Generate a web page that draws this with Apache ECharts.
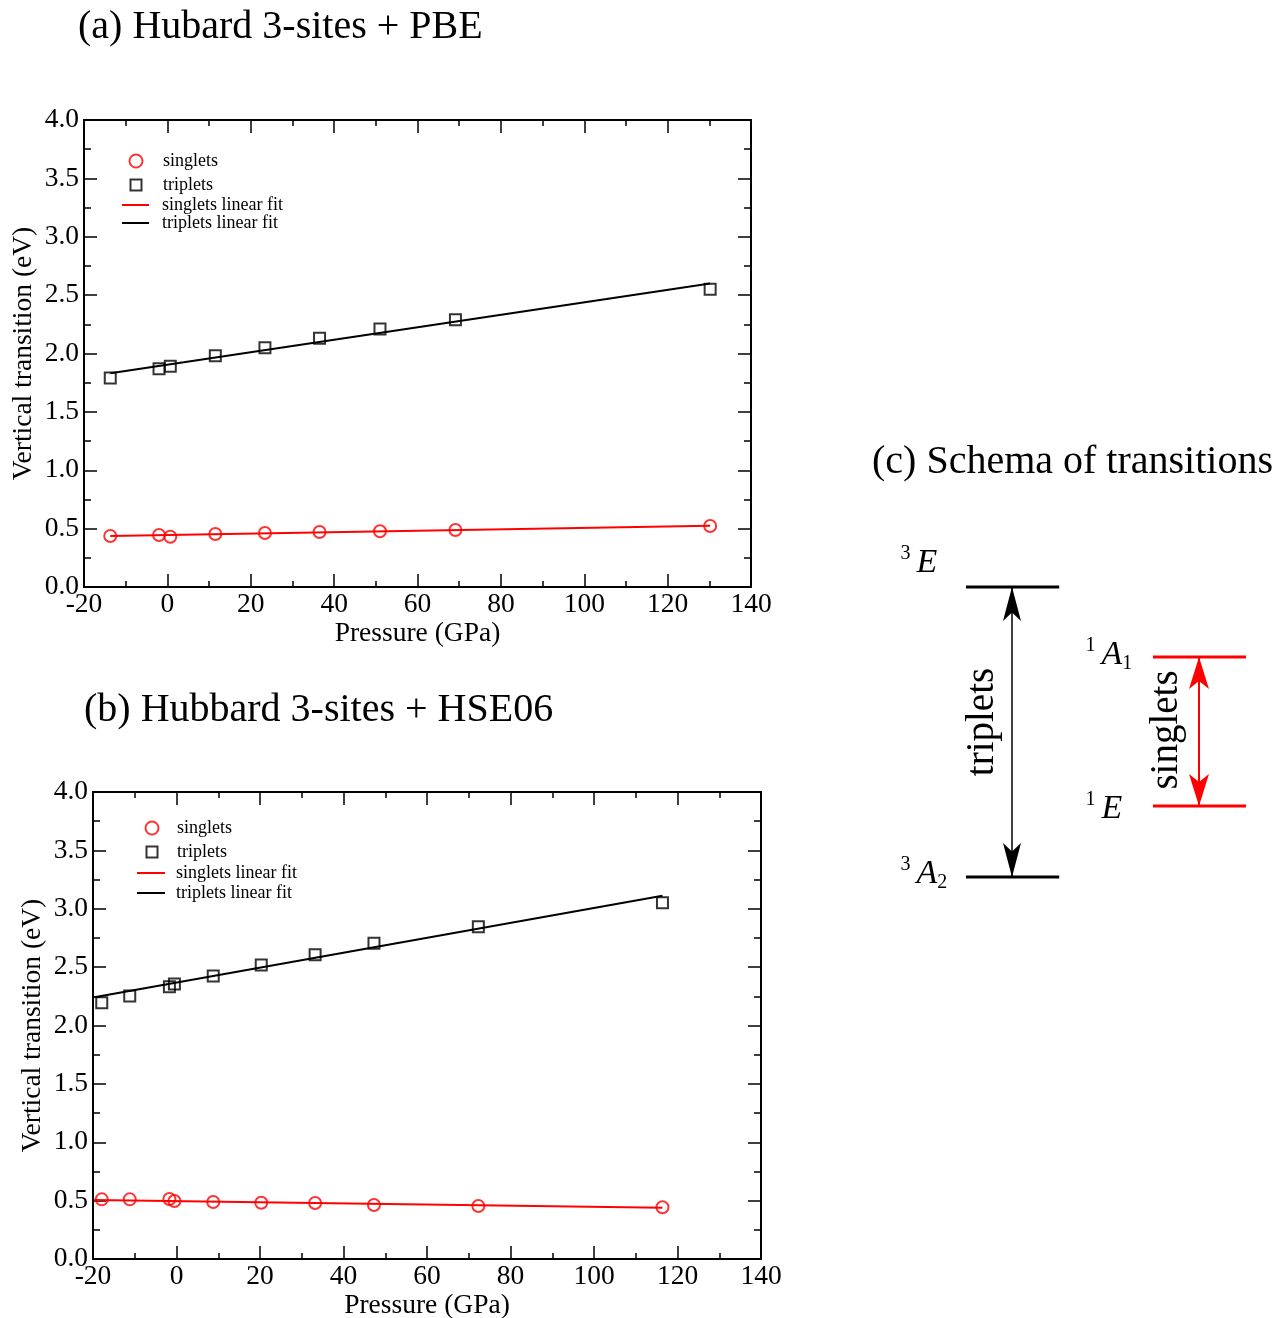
<!DOCTYPE html>
<html><head><meta charset="utf-8">
<script src="https://cdn.jsdelivr.net/npm/echarts@6/dist/echarts.min.js"></script>
<style>html,body{margin:0;padding:0;background:#fff}#c{width:1284px;height:1318px}</style>
</head><body><div id="c"></div>
<script>
// ---- Panel (a): Hubard 3-sites + PBE ----
const pressureA = [-13.7, -2.0, 0.7, 11.5, 23.4, 36.5, 51.0, 69.1, 130.2];
const singletsA = [0.437, 0.445, 0.431, 0.454, 0.463, 0.471, 0.477, 0.488, 0.522];
const tripletsA = [1.79, 1.87, 1.89, 1.98, 2.05, 2.13, 2.21, 2.29, 2.55];
const fitRangeA = [-13.7, 130.2];
const singletFitA = [0.437, 0.525];
const tripletFitA = [1.83, 2.60];

// ---- Panel (b): Hubbard 3-sites + HSE06 ----
const pressureB = [-17.9, -11.2, -1.7, -0.5, 8.8, 20.3, 33.2, 47.3, 72.3, 116.4];
const singletsB = [0.511, 0.511, 0.514, 0.497, 0.488, 0.482, 0.480, 0.463, 0.454, 0.443];
const tripletsB = [2.195, 2.253, 2.332, 2.355, 2.424, 2.518, 2.606, 2.704, 2.846, 3.052];
const fitRangeB = [-19.7, 116.4];
const singletFitB = [0.505, 0.440];
const tripletFitB = [2.242, 3.112];

// ---- axis ticks ----
const xTicks = { min: -20, max: 140, step: 20 };
const yTicks = { min: 0, max: 4, step: 0.5 };

// ---- Panel (c): schema of transitions ----
const levelNames = ['{sup|3}{it|E}', '{sup|1}{it|A}{sub|1}', '{sup|1}{it|E}', '{sup|3}{it|A}{sub|2}'];
const levelKind = ['triplet', 'singlet', 'singlet', 'triplet'];
const levelEnergy = [2.90, 2.20, 0.71, 0.00];
const levelStart = [2.65, 7.325, 7.325, 2.65];
const levelEnd = [4.98, 9.65, 9.65, 4.98];
const levelLabelX = [1.0, 5.625, 5.625, 1.0];
const levelLabelY = [3.14, 2.22, 0.68, 0.03];
const arrowNames = ['triplets', 'singlets'];
const arrowX = [3.8, 8.475];
const arrowFrom = [0.0, 0.71];
const arrowTo = [2.90, 2.20];
const arrowTextX = [3.075, 7.67];
const arrowTextY = [1.55, 1.47];

const SERIF = '"Liberation Serif","DejaVu Serif",serif';
const RED = '#ff0000';
const CLEAR = 'rgba(0,0,0,0)';
const pair = (xs, ys) => xs.map((x, i) => [x, ys[i]]);

function xAxes(g) {
  const base = {
    type: 'value', gridIndex: g, min: xTicks.min, max: xTicks.max, interval: xTicks.step,
    axisLine: { onZero: false, lineStyle: { color: '#000', width: 2 } },
    axisTick: { inside: true, length: 13, lineStyle: { color: '#000', width: 1.5 } },
    minorTick: { show: true, splitNumber: 2, length: 6, lineStyle: { color: '#000', width: 1.5 } },
    splitLine: { show: false }, minorSplitLine: { show: false }
  };
  return [
    Object.assign({}, base, {
      position: 'bottom',
      axisLabel: { margin: 4, color: '#000', fontSize: 27.5, fontFamily: SERIF },
      name: 'Pressure (GPa)', nameLocation: 'middle', nameGap: 27.5,
      nameTextStyle: { color: '#000', fontSize: 27.5, fontFamily: SERIF }
    }),
    Object.assign({}, base, { position: 'top', axisLabel: { show: false } })
  ];
}
function yAxes(g, gap) {
  const base = {
    type: 'value', gridIndex: g, min: yTicks.min, max: yTicks.max, interval: yTicks.step,
    axisLine: { onZero: false, lineStyle: { color: '#000', width: 2 } },
    axisTick: { inside: true, length: 13, lineStyle: { color: '#000', width: 1.5 } },
    minorTick: { show: true, splitNumber: 2, length: 7, lineStyle: { color: '#000', width: 1.5 } },
    splitLine: { show: false }, minorSplitLine: { show: false }
  };
  return [
    Object.assign({}, base, {
      position: 'left',
      axisLabel: { margin: 5, color: '#000', fontSize: 27.5, fontFamily: SERIF, formatter: v => v.toFixed(1) },
      name: 'Vertical transition (eV)', nameLocation: 'middle', nameGap: gap, nameMoveOverlap: false,
      nameTextStyle: { color: '#000', fontSize: 27.5, fontFamily: SERIF }
    }),
    Object.assign({}, base, { position: 'right', axisLabel: { show: false } })
  ];
}

function panelSeries(axisIdx, px, sing, trip, fitR, sFit, tFit) {
  return [
    { name: 'singlets', type: 'scatter', xAxisIndex: axisIdx, yAxisIndex: axisIdx,
      data: pair(px, sing), symbol: 'circle', symbolSize: 12,
      itemStyle: { color: CLEAR, borderColor: RED, borderWidth: 2 }, z: 3 },
    { name: 'triplets', type: 'scatter', xAxisIndex: axisIdx, yAxisIndex: axisIdx,
      data: pair(px, trip), symbol: 'rect', symbolSize: 11,
      itemStyle: { color: CLEAR, borderColor: '#000', borderWidth: 2 }, z: 3 },
    { name: 'singlets linear fit', type: 'line', xAxisIndex: axisIdx, yAxisIndex: axisIdx,
      data: pair(fitR, sFit), showSymbol: false, symbol: 'none',
      lineStyle: { color: RED, width: 2 }, itemStyle: { color: RED }, z: 2 },
    { name: 'triplets linear fit', type: 'line', xAxisIndex: axisIdx, yAxisIndex: axisIdx,
      data: pair(fitR, tFit), showSymbol: false, symbol: 'none',
      lineStyle: { color: '#000', width: 2 }, itemStyle: { color: '#000' }, z: 2 }
  ];
}

function legends(iconX, lineLeft, lineW, textX, rows) {
  const common = { orient: 'horizontal', padding: 0, selectedMode: false, symbolKeepAspect: false };
  const ts = (left, w) => ({ color: '#000', fontSize: 18, fontFamily: SERIF, lineHeight: 20,
                             padding: [0, 0, 0, textX - (left + w + 5)] });
  const out = [];
  out.push(Object.assign({}, common, { data: ['singlets'], icon: 'circle', itemWidth: 13, itemHeight: 13,
    left: iconX - 6.5, top: rows[0] - 10, textStyle: ts(iconX - 6.5, 13),
    itemStyle: { color: CLEAR, borderColor: RED, borderWidth: 2 } }));
  out.push(Object.assign({}, common, { data: ['triplets'], icon: 'rect', itemWidth: 11, itemHeight: 11,
    left: iconX - 5.5, top: rows[1] - 10, textStyle: ts(iconX - 5.5, 11),
    itemStyle: { color: CLEAR, borderColor: '#000', borderWidth: 2 } }));
  out.push(Object.assign({}, common, { data: ['singlets linear fit'], icon: 'rect', itemWidth: lineW, itemHeight: 2,
    left: lineLeft, top: rows[2] - 10, textStyle: ts(lineLeft, lineW),
    itemStyle: { color: RED, borderWidth: 0 } }));
  out.push(Object.assign({}, common, { data: ['triplets linear fit'], icon: 'rect', itemWidth: lineW, itemHeight: 2,
    left: lineLeft, top: rows[3] - 10, textStyle: ts(lineLeft, lineW),
    itemStyle: { color: '#000', borderWidth: 0 } }));
  return out;
}

// schema series
const schemaSeries = [];
levelEnergy.forEach((e, i) => {
  const col = levelKind[i] === 'singlet' ? RED : '#000';
  schemaSeries.push({ type: 'line', xAxisIndex: 4, yAxisIndex: 4, clip: false, silent: true,
    data: [[levelStart[i], e], [levelEnd[i], e]], showSymbol: false, symbol: 'none',
    lineStyle: { color: col, width: 3 } });
});
arrowX.forEach((x, i) => {
  const col = i === 1 ? RED : '#000';
  schemaSeries.push({ type: 'line', xAxisIndex: 4, yAxisIndex: 4, clip: false, silent: true,
    data: [
      { value: [x, arrowTo[i]], symbol: 'arrow', symbolRotate: 0 },
      { value: [x, arrowFrom[i]], symbol: 'arrow', symbolRotate: 180 }
    ],
    showSymbol: true, showAllSymbol: true, symbolSize: i === 1 ? [15, 32] : [13.5, 34],
    lineStyle: { color: col, width: i === 1 ? 2 : 1.5 }, itemStyle: { color: col } });
});
const labelBase = { color: '#000', opacity: 1, textBorderWidth: 0, fontFamily: SERIF };
schemaSeries.push({ type: 'scatter', xAxisIndex: 4, yAxisIndex: 4, clip: false, silent: true,
  data: levelLabelX.map((x, i) => [x, levelLabelY[i], levelNames[i]]),
  symbolSize: 1, itemStyle: { color: CLEAR },
  label: Object.assign({}, labelBase, { show: true, position: 'right', distance: 0, formatter: p => p.data[2],
    fontSize: 33, lineHeight: 38,
    rich: {
      sup: { fontSize: 20, fontFamily: SERIF, color: '#000', verticalAlign: 'top', padding: [0, 6, 0, 0], lineHeight: 38 },
      it: { fontSize: 34, fontStyle: 'italic', fontFamily: SERIF, color: '#000', lineHeight: 38 },
      sub: { fontSize: 20, fontFamily: SERIF, color: '#000', verticalAlign: 'bottom', lineHeight: 38 }
    } }) });
schemaSeries.push({ type: 'scatter', xAxisIndex: 4, yAxisIndex: 4, clip: false, silent: true,
  data: arrowTextX.map((x, i) => [x, arrowTextY[i], arrowNames[i]]),
  symbolSize: 1, itemStyle: { color: CLEAR },
  label: Object.assign({}, labelBase, { show: true, position: 'inside', rotate: 90, formatter: p => p.data[2],
    fontSize: 39 }) });

const titleStyle = { fontFamily: SERIF, fontSize: 40, fontWeight: 'normal', color: '#000', lineHeight: 44 };
const option = {
  backgroundColor: '#fff',
  animation: false,
  title: [
    { text: '(a) Hubard 3-sites + PBE', left: 78, top: 5, padding: 0, textStyle: titleStyle },
    { text: '(b) Hubbard 3-sites + HSE06', left: 84, top: 688, padding: 0, textStyle: titleStyle },
    { text: '(c) Schema of transitions', left: 872, top: 440, padding: 0, textStyle: titleStyle }
  ],
  legend: legends(135, 122, 27, 162, [161, 185, 205, 223])
    .concat(legends(151, 137, 28, 176, [828, 852, 873, 893])),
  grid: [
    { left: 84, top: 120, width: 667, height: 467, outerBoundsMode: 'none', containLabel: false },
    { left: 93, top: 792, width: 668, height: 467, outerBoundsMode: 'none', containLabel: false },
    { left: 860, top: 577, width: 400, height: 300, outerBoundsMode: 'none', containLabel: false }
  ],
  xAxis: xAxes(0).concat(xAxes(1)).concat([{ type: 'value', gridIndex: 2, min: 0, max: 10, show: false }]),
  yAxis: yAxes(0, 46).concat(yAxes(1, 46)).concat([{ type: 'value', gridIndex: 2, min: 0, max: 3, show: false }]),
  series: panelSeries(0, pressureA, singletsA, tripletsA, fitRangeA, singletFitA, tripletFitA)
    .concat(panelSeries(2, pressureB, singletsB, tripletsB, fitRangeB, singletFitB, tripletFitB))
    .concat(schemaSeries)
};
const chart = echarts.init(document.getElementById('c'), null, { renderer: 'canvas' });
chart.setOption(option);
</script></body></html>
